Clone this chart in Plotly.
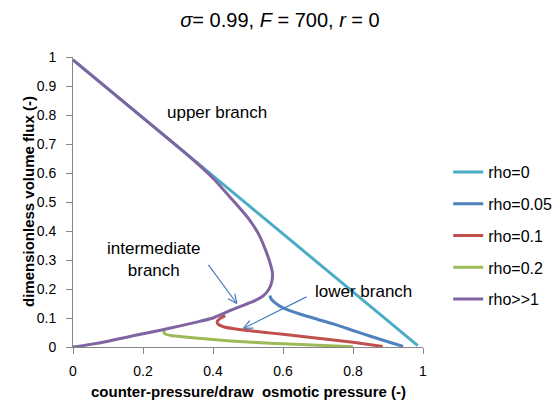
import math
import plotly.graph_objects as go

# ---------------- data ----------------
rho0_x = [0.0, 0.2, 0.4, 0.6, 0.8, 0.985]
rho0_y = [0.99, 0.79, 0.59, 0.39, 0.19, 0.005]

rho005_x = [0.563, 0.565, 0.575, 0.6, 0.65, 0.7, 0.75, 0.8, 0.85, 0.9, 0.943]
rho005_y = [0.178, 0.168, 0.155, 0.135, 0.113, 0.095, 0.077, 0.057, 0.037, 0.018, 0.002]

rho01_x = [0.435, 0.42, 0.412, 0.415, 0.43, 0.46, 0.5, 0.55, 0.6, 0.65, 0.7, 0.75, 0.8, 0.85, 0.885]
rho01_y = [0.108, 0.098, 0.088, 0.078, 0.070, 0.063, 0.057, 0.050, 0.044, 0.037, 0.030, 0.023, 0.016, 0.008, 0.002]

rho02_x = [0.262, 0.26, 0.265, 0.28, 0.3, 0.35, 0.4, 0.45, 0.5, 0.55, 0.6, 0.7, 0.8]
rho02_y = [0.056, 0.049, 0.044, 0.040, 0.037, 0.031, 0.026, 0.021, 0.017, 0.014, 0.011, 0.006, 0.001]

rhoinf_x = [0.0, 0.05, 0.1, 0.15, 0.2, 0.25, 0.3, 0.35, 0.4, 0.45, 0.5, 0.53, 0.55, 0.563, 0.57,
            0.568, 0.56, 0.545, 0.52, 0.5, 0.477, 0.45, 0.4, 0.35, 0.3, 0.25, 0.2, 0.15, 0.1, 0.05, 0.0]
rhoinf_y = [0.99, 0.94, 0.89, 0.84, 0.79, 0.74, 0.69, 0.638, 0.582, 0.515, 0.445, 0.39, 0.335, 0.29, 0.255,
            0.225, 0.2, 0.178, 0.16, 0.15, 0.139, 0.126, 0.1, 0.085, 0.071, 0.058, 0.046, 0.033, 0.02, 0.009, 0.0]

series_names = ["rho=0", "rho=0.05", "rho=0.1", "rho=0.2", "rho>>1"]
series_x = [rho0_x, rho005_x, rho01_x, rho02_x, rhoinf_x]
series_y = [rho0_y, rho005_y, rho01_y, rho02_y, rhoinf_y]
series_colors = ["#4BACC6", "#4F81BD", "#C0504D", "#9BBB59", "#8064A2"]

x_ticks = [0, 0.2, 0.4, 0.6, 0.8, 1]
y_ticks = [0, 0.1, 0.2, 0.3, 0.4, 0.5, 0.6, 0.7, 0.8, 0.9, 1]

# ---------------- figure ----------------
W, H = 556, 408
ML, MR, MT, MB = 73, 133, 57, 61
PW, PH = W - ML - MR, H - MT - MB
FONT = "Liberation Sans, Arial, sans-serif"

fig = go.Figure()
for i, (name, xs, ys, col) in enumerate(zip(series_names, series_x, series_y, series_colors)):
    fig.add_trace(go.Scatter(x=xs, y=ys, mode="lines", name=name, legendgroup=f"g{i}",
                             line=dict(color=col, width=3, shape="spline", smoothing=0.6)))

axis_common = dict(range=[0, 1], showgrid=False, zeroline=False, showline=True,
                   linecolor="#868686", linewidth=1, ticks="outside", tickcolor="#868686",
                   ticklen=6, tickfont=dict(family=FONT, size=14, color="#000000"))

fig.update_layout(
    width=W, height=H,
    margin=dict(l=ML, r=MR, t=MT, b=MB, autoexpand=False),
    paper_bgcolor="white", plot_bgcolor="white",
    font=dict(family=FONT, color="#000000"),
    title=dict(text="<i>σ</i>= 0.99, <i>F</i> = 700, <i>r</i> = 0",
               x=280 / W, xanchor="center", y=1 - 20 / H, yanchor="middle",
               font=dict(family=FONT, size=20, color="#000000")),
    xaxis=dict(axis_common, tickvals=x_ticks, ticktext=[f"{v:g}" for v in x_ticks],
               ticklabelstandoff=5),
    yaxis=dict(axis_common, tickvals=y_ticks, ticktext=[f"{v:g}" for v in y_ticks],
               ticklabelstandoff=7),
    legend=dict(x=1.072, xanchor="left", y=0.662, yanchor="top", tracegroupgap=8,
                font=dict(family=FONT, size=16, color="#000000"),
                bgcolor="rgba(0,0,0,0)", borderwidth=0),
    showlegend=True,
)

# axis titles
title_font = dict(family=FONT, size=15, color="#000000")
fig.add_annotation(x=(248 - ML) / PW, y=-(391 - (MT + PH)) / PH, xref="paper", yref="paper",
                   text="<b>counter-pressure/draw  osmotic pressure (-)</b>",
                   showarrow=False, font=title_font, xanchor="center", yanchor="middle")
fig.add_annotation(x=-(ML - 28) / PW, y=0.5, xref="paper", yref="paper",
                   text="<b>dimensionless volume flux (-)</b>", textangle=-90,
                   showarrow=False, font=title_font, xanchor="center", yanchor="middle")

# text labels
label_font = dict(family=FONT, size=17, color="#000000")
fig.add_annotation(x=0.411, y=0.807, xref="x", yref="y", text="upper branch",
                   showarrow=False, font=label_font)
fig.add_annotation(x=0.231, y=0.303, xref="x", yref="y", text="intermediate<br>branch",
                   showarrow=False, font=label_font)
fig.add_annotation(x=0.83, y=0.19, xref="x", yref="y", text="lower branch",
                   showarrow=False, font=label_font)

# arrows (shaft + open V head), computed in pixel space
arrow_col = "#4A7EBB"


def add_arrow(x0, y0, x1, y1, head=10, ang=25):
    fig.add_shape(type="line", x0=x0, y0=y0, x1=x1, y1=y1, xref="x", yref="y",
                  line=dict(color=arrow_col, width=1.25))
    dx, dy = (x1 - x0) * PW, (y1 - y0) * PH
    L = math.hypot(dx, dy)
    ux, uy = dx / L, dy / L
    for s in (1, -1):
        a = math.radians(ang * s)
        wx = -(ux * math.cos(a) - uy * math.sin(a)) * head
        wy = -(ux * math.sin(a) + uy * math.cos(a)) * head
        fig.add_shape(type="line", x0=x1, y0=y1, x1=x1 + wx / PW, y1=y1 + wy / PH,
                      xref="x", yref="y", line=dict(color=arrow_col, width=1.25))


add_arrow(0.387, 0.283, 0.468, 0.150)
add_arrow(0.667, 0.173, 0.487, 0.064)

fig.write_html("out.html", config={"displayModeBar": False},
               post_script="document.body.style.margin='0';document.body.style.overflow='hidden';")
